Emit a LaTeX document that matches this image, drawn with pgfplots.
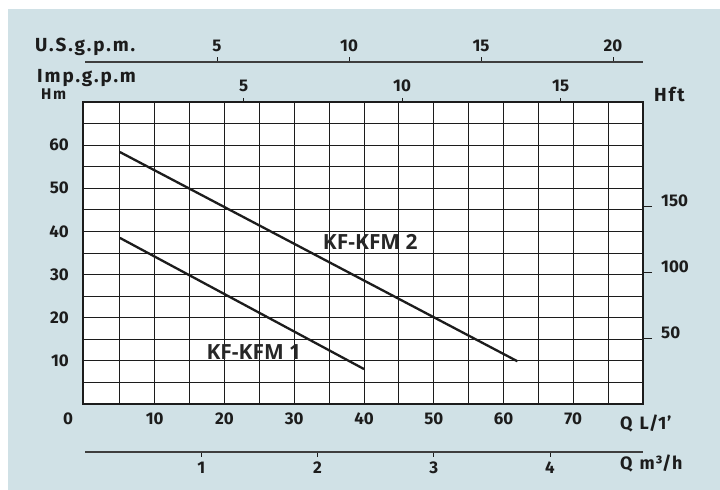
\documentclass[border=0pt]{standalone}
\usepackage{fontspec}
\setmainfont{Fira Sans}
\newfontfamily\lblfont[LetterSpace=10]{Fira Sans}
\newfontfamily\qfont[LetterSpace=4]{Fira Sans}
\newfontfamily\curvefont{Open Sans}
\usepackage{pgfplots}
\pgfplotsset{compat=1.18}
\definecolor{bg}{RGB}{208,225,230}
\definecolor{ink}{RGB}{28,28,28}
\pgfplotsset{every axis/.append style={scale only axis,
  /pgf/number format/assume math mode=true,
  tick label style={font=\fontsize{17}{20}\selectfont\bfseries, text=ink, inner sep=0pt}}}
\begin{document}
\begin{tikzpicture}
\useasboundingbox (0,0) rectangle (720bp,490bp);
\fill[white] (0,0) rectangle (720bp,490bp);
\fill[bg] (8bp,0) rectangle (720bp,481bp);

% main axis: Q in L/min, H in m
\begin{axis}[at={(83bp,86bp)}, anchor=south west, width=560bp, height=302bp,
  xmin=-0.29, xmax=80, ymin=0, ymax=70,
  xtick={10,20,...,70}, minor xtick={5,15,...,75},
  ytick={10,20,...,60}, minor ytick={5,15,...,65},
  grid=both, major grid style={ink, line width=0.9bp}, minor grid style={ink, line width=0.9bp},
  major tick length=0pt, minor tick length=0pt,
  axis line style={ink, line width=1.6bp},
  axis background/.style={fill=white},
  xticklabel style={anchor=base, yshift=-21bp},
  yticklabel style={anchor=east, xshift=-14bp},
  clip=false]
\addplot[ink, line width=2.3bp] coordinates {(5,38.5) (40,8.1)};
\addplot[ink, line width=2.3bp] coordinates {(5,58.4) (62,9.9)};
\node[font=\curvefont\bfseries\fontsize{21}{24}\selectfont, text=ink!95, inner sep=0pt] at (axis cs:40.9,37.6) {KF-KFM 2};
\node[font=\curvefont\bfseries\fontsize{21}{24}\selectfont, text=ink!95, inner sep=0pt] at (axis cs:24.2,12.05) {KF-KFM 1};
\end{axis}

% Imp. g.p.m. ticks on top of frame
\begin{axis}[at={(83bp,86bp)}, anchor=south west, width=560bp, height=302bp,
  xmin=-0.0638, xmax=17.598, ymin=0, ymax=1,
  axis x line*=top, axis y line=none, x axis line style={draw=none,-},
  xtick={5,10,15}, tick align=outside, major tick length=4bp,
  xtick style={ink, line width=1bp},
  xticklabel style={anchor=base, yshift=6bp}]
\end{axis}

% Hft on right
\begin{axis}[at={(83bp,86bp)}, anchor=south west, width=560bp, height=302bp,
  xmin=0, xmax=1, ymin=0, ymax=229.659,
  axis y line*=right, axis x line=none, y axis line style={draw=none,-},
  ytick={50,100,150}, tick align=outside, major tick length=9bp,
  ytick style={ink, line width=1bp},
  yticklabel style={anchor=base west, xshift=9bp}]
\end{axis}

% U.S. g.p.m. top scale
\begin{axis}[at={(85bp,418bp)}, anchor=south west, width=558bp, height=10bp,
  xmin=0, xmax=21.134, ymin=0, ymax=1,
  axis x line*=top, axis y line=none, x axis line style={ink!85, line width=1.5bp,-},
  xtick={5,10,15,20}, tick align=outside, major tick length=4.5bp,
  xtick style={ink, line width=1bp},
  xticklabel style={anchor=base, yshift=6.2bp}]
\end{axis}

% m3/h bottom scale
\begin{axis}[at={(85bp,38bp)}, anchor=south west, width=558bp, height=10bp,
  xmin=0, xmax=4.8, ymin=0, ymax=1,
  axis x line*=bottom, axis y line=none, x axis line style={ink!85, line width=1.5bp,-},
  xtick={1,2,3,4}, tick align=outside, major tick length=4.5bp,
  xtick style={ink, line width=1bp},
  xticklabel style={anchor=base, yshift=-16.5bp}]
\end{axis}

\begin{scope}[every node/.style={inner sep=0pt, text=ink, font=\lblfont\bfseries\fontsize{19}{22}\selectfont}]
\node[anchor=base west] at (35bp,438bp) {U.S.g.p.m.};
\node[anchor=base west] at (37bp,407bp) {Imp.g.p.m};
\node[anchor=base west, font=\lblfont\bfseries\fontsize{15.5}{18}\selectfont] at (41bp,390bp) {Hm};
\node[anchor=base west] at (654bp,388bp) {Hft};
\node[anchor=base west, font=\qfont\bfseries\fontsize{18}{21}\selectfont] at (620bp,60bp) {Q\hspace{7bp}L/1’};
\node[anchor=base west, font=\qfont\bfseries\fontsize{18}{21}\selectfont] at (620bp,21bp) {Q\hspace{7bp}m³/h};
\node[anchor=base, font=\bfseries\fontsize{17}{20}\selectfont] at (68bp,65bp) {0};
\end{scope}
\end{tikzpicture}
\end{document}
